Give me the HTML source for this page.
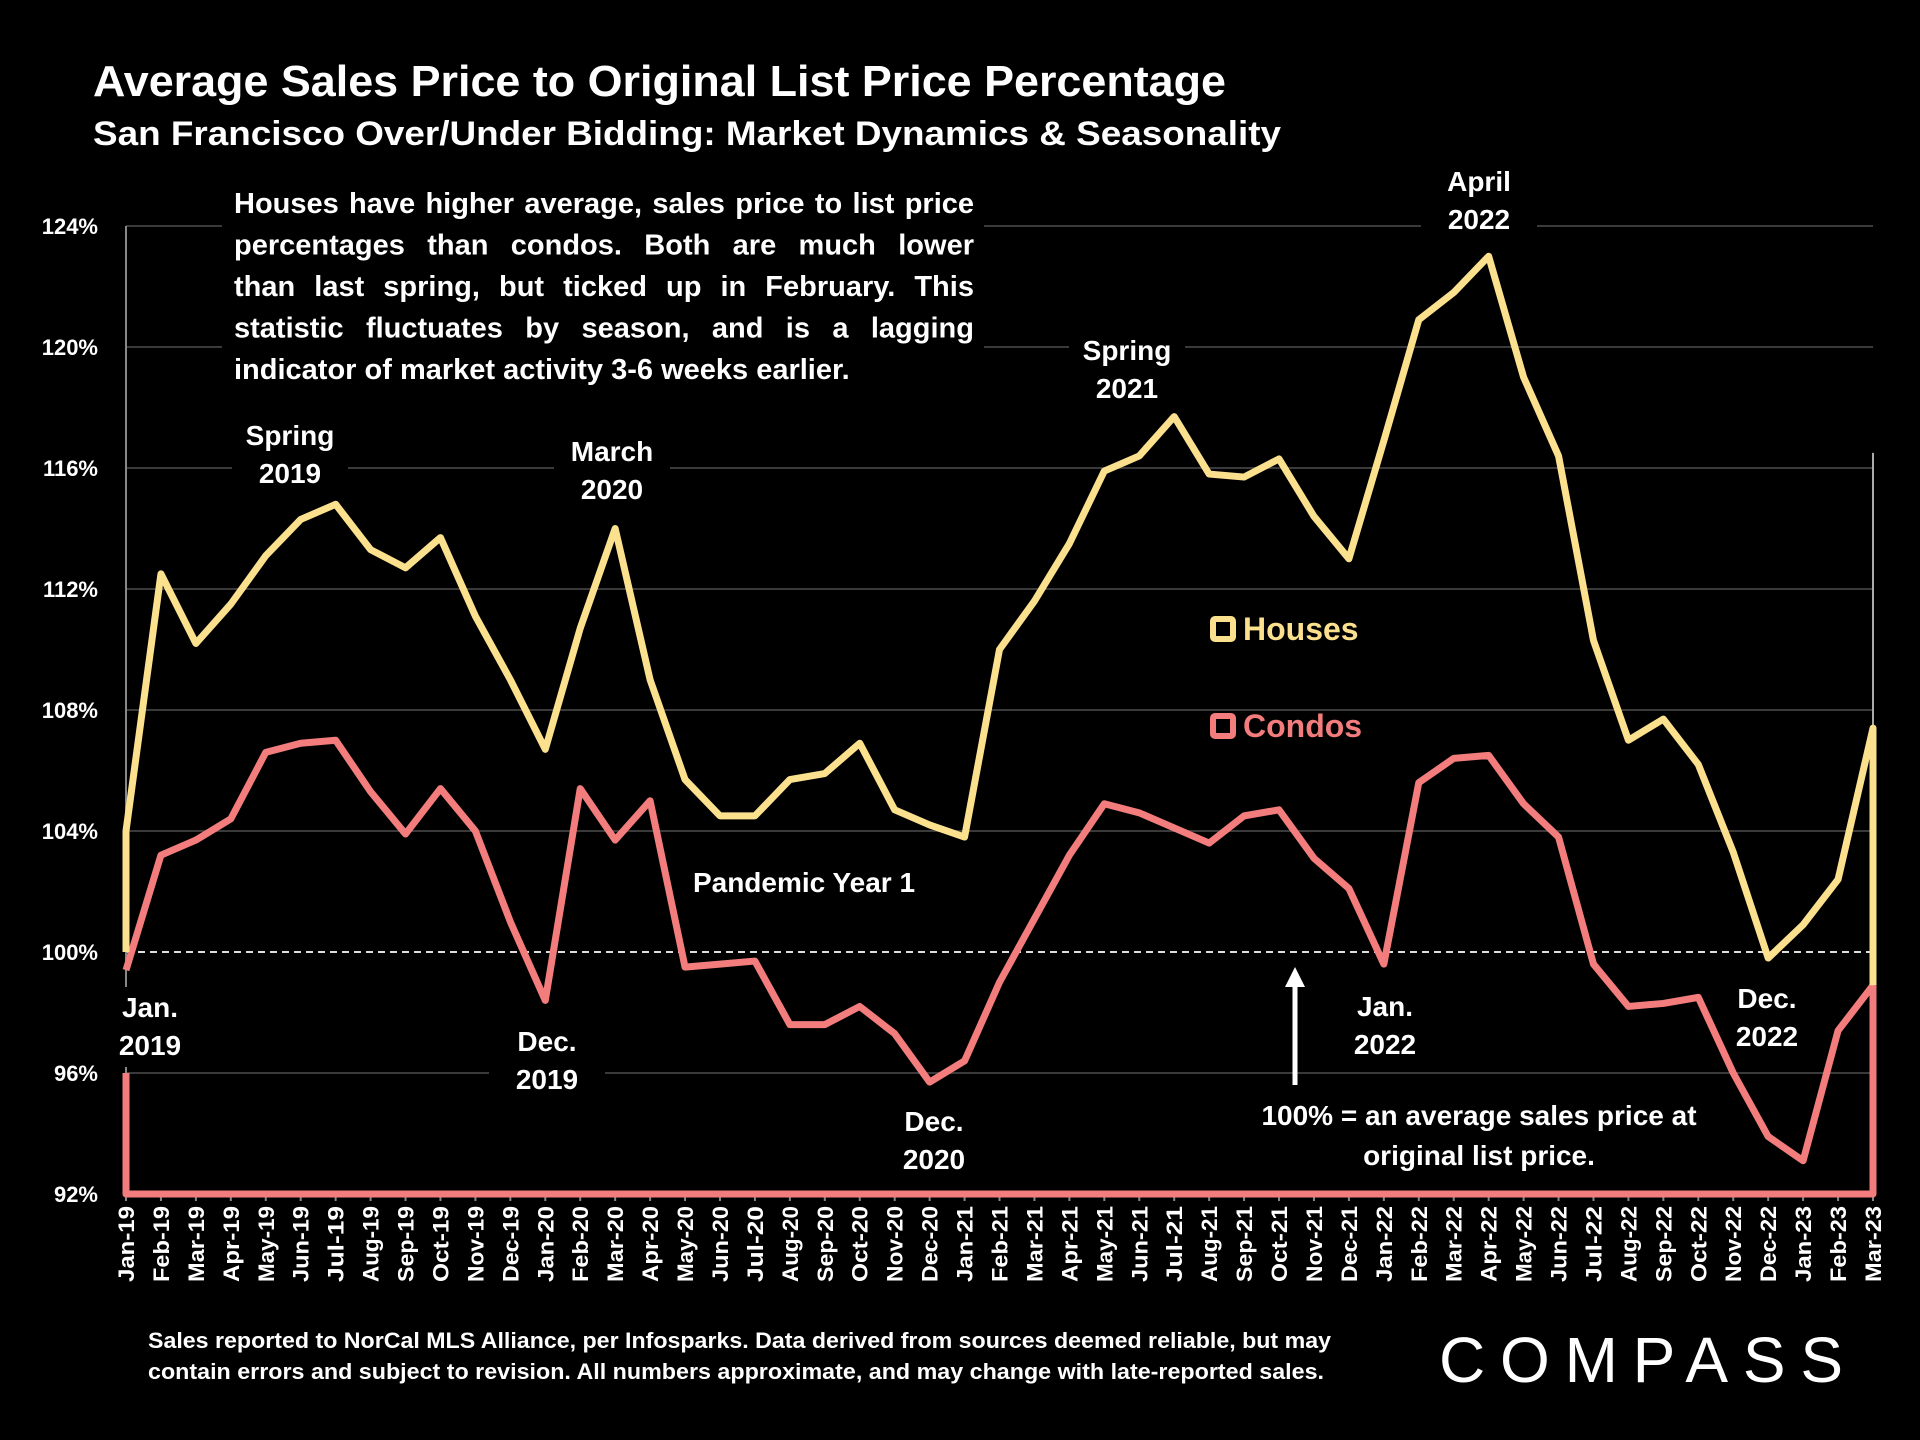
<!DOCTYPE html>
<html><head><meta charset="utf-8"><style>
html,body{margin:0;padding:0;background:#000;}
svg{display:block;font-family:"Liberation Sans",sans-serif;font-weight:bold;}
</style></head><body>
<svg id="chart" width="1920" height="1440" viewBox="0 0 1920 1440" xmlns="http://www.w3.org/2000/svg">
<rect width="1920" height="1440" fill="#000"/>
<g id="grid"></g>
<g id="yticks"></g>
<g id="xticks"></g>
<g id="series"></g>
<g fill="#fff" font-size="44">
<text x="93" y="96" textLength="1133" lengthAdjust="spacingAndGlyphs">Average Sales Price to Original List Price Percentage</text>
<text x="93" y="145" font-size="34" textLength="1188" lengthAdjust="spacingAndGlyphs">San Francisco Over/Under Bidding: Market Dynamics &amp; Seasonality</text>
</g>
<g id="notes" fill="#fff" font-size="28" text-anchor="middle"></g>
<g id="legend">
<g><rect x="1213" y="619" width="20" height="20" fill="#000" stroke="#fbe08e" stroke-width="6" rx="2"/><text x="1243" y="640" font-size="32" fill="#fbe08e">Houses</text></g>
<g><rect x="1213" y="716" width="20" height="20" fill="#000" stroke="#f37c7c" stroke-width="6" rx="2"/><text x="1243" y="737" font-size="32" fill="#f37c7c">Condos</text></g>
</g>
<g fill="#fff" font-size="22">
<text x="148" y="1348" textLength="1183" lengthAdjust="spacingAndGlyphs">Sales reported to NorCal MLS Alliance, per Infosparks. Data derived from sources deemed reliable, but may</text>
<text x="148" y="1379" textLength="1176" lengthAdjust="spacingAndGlyphs">contain errors and subject to revision. All numbers approximate, and may change with late-reported sales.</text>
</g>
<text x="1439" y="1382" fill="#fff" font-size="64" textLength="404" lengthAdjust="spacing" style="font-weight:normal">COMPASS</text>
</svg>
<script>
const months = ["Jan-19","Feb-19","Mar-19","Apr-19","May-19","Jun-19","Jul-19","Aug-19","Sep-19","Oct-19","Nov-19","Dec-19","Jan-20","Feb-20","Mar-20","Apr-20","May-20","Jun-20","Jul-20","Aug-20","Sep-20","Oct-20","Nov-20","Dec-20","Jan-21","Feb-21","Mar-21","Apr-21","May-21","Jun-21","Jul-21","Aug-21","Sep-21","Oct-21","Nov-21","Dec-21","Jan-22","Feb-22","Mar-22","Apr-22","May-22","Jun-22","Jul-22","Aug-22","Sep-22","Oct-22","Nov-22","Dec-22","Jan-23","Feb-23","Mar-23"];
const houses = [104.0,112.5,110.2,111.5,113.1,114.3,114.8,113.3,112.7,113.7,111.1,109.0,106.7,110.7,114.0,109.0,105.7,104.5,104.5,105.7,105.9,106.9,104.7,104.2,103.8,110.0,111.6,113.5,115.9,116.4,117.7,115.8,115.7,116.3,114.4,113.0,116.9,120.9,121.8,123.0,119.0,116.4,110.3,107.0,107.7,106.2,103.3,99.8,100.9,102.4,107.4];
const condos = [99.4,103.2,103.7,104.4,106.6,106.9,107.0,105.3,103.9,105.4,104.0,101.0,98.4,105.4,103.7,105.0,99.5,99.6,99.7,97.6,97.6,98.2,97.3,95.7,96.4,99.0,101.1,103.2,104.9,104.6,104.1,103.6,104.5,104.7,103.1,102.1,99.6,105.6,106.4,106.5,104.9,103.8,99.6,98.2,98.3,98.5,96.0,93.9,93.1,97.4,98.9];
const yTicks = [92,96,100,104,108,112,116,120,124];

const NS="http://www.w3.org/2000/svg";
const X0=126, X1=1873, YMIN=92, YMAX=124, PY0=1194, PY1=226;
const x=i=>X0+(X1-X0)*i/(months.length-1);
const y=v=>PY0-(v-YMIN)/(YMAX-YMIN)*(PY0-PY1);
function mk(tag,attrs,parent){const e=document.createElementNS(NS,tag);for(const k in attrs)e.setAttribute(k,attrs[k]);parent.appendChild(e);return e;}

const grid=document.getElementById('grid');
yTicks.forEach(t=>{
  if(t===92||t===100) return;
  const l=mk('line',{x1:X0,x2:X1,y1:y(t),y2:y(t),stroke:'#3a3a3a','stroke-width':2},grid);
  
  
});
const dash=mk('line',{x1:X0,x2:X1,y1:y(100),y2:y(100),stroke:'#ddd','stroke-width':2,'stroke-dasharray':'7,5'},grid);


const va=mk('line',{x1:X0,x2:X0,y1:y(124),y2:y(92),stroke:'#888','stroke-width':2},grid);


const vb=mk('line',{x1:X1,x2:X1,y1:y(116.5),y2:y(92),stroke:'#aaa','stroke-width':2},grid);



const yt=document.getElementById('yticks');
yTicks.forEach(t=>{
  const e=mk('text',{x:98,y:y(t)+8,'text-anchor':'end','font-size':22,fill:'#fff'},yt);
  e.textContent=t+'%';
  
  
});
const xt=document.getElementById('xticks');
months.forEach((m,i)=>{
  const tk=mk('line',{x1:x(i),x2:x(i),y1:PY0,y2:PY0+7,stroke:'#888','stroke-width':2},xt);
  
  
  const e=mk('text',{transform:`translate(${x(i)+8},${PY0+12}) rotate(-90)`,'text-anchor':'end','font-size':22,fill:'#fff','textLength':76,'lengthAdjust':'spacingAndGlyphs'},xt);
  e.textContent=m;
  
  
});

const labels=[
 ["Spring","2019",290,445],["March","2020",612,461],["Spring","2021",1127,360],["April","2022",1479,191],
 ["Jan.","2019",150,1017],["Dec.","2019",547,1051],["Dec.","2020",934,1131],["Jan.","2022",1385,1016],["Dec.","2022",1767,1008]
];
// label backgrounds behind series (mask gridlines only)
labels.forEach(l=>{
  const bg=mk('rect',{x:l[2]-58,y:l[3]-30,width:116,height:80,fill:'#000'},grid);
  
  
});
const pb=mk('rect',{x:222,y:180,width:762,height:210,fill:'#000'},grid);



const sg=document.getElementById('series');
const N=months.length-1;
const cp=mk('path',{d:`M${x(0)},${y(96)} L${x(0)},${y(92)} L${x(N)},${y(92)} L${x(N)},${y(condos[N])} M${x(0)},${y(condos[0])}`+condos.map((v,i)=>` L${x(i)},${y(v)}`).join(''),fill:'none',stroke:'#f37c7c','stroke-width':7,'stroke-linejoin':'round'},sg);


const hp=mk('path',{d:`M${x(0)},${y(100)}`+houses.map((v,i)=>` L${x(i)},${y(v)}`).join('')+` L${x(N)},${y(condos[N])}`,fill:'none',stroke:'#fbe08e','stroke-width':7,'stroke-linejoin':'round'},sg);



const notes=document.getElementById('notes');
const para=["Houses have higher average, sales price to list price","percentages than condos. Both are much lower","than last spring, but ticked up in February. This","statistic fluctuates by season, and is a lagging","indicator of market activity 3-6 weeks earlier."];
para.forEach((s,i)=>{
  const e=mk('text',{x:234,y:213+i*41.5,'text-anchor':'start','font-size':29,fill:'#fff'},notes);
  e.textContent=s;
  
  
  if(i<4){
    const w=e.getComputedTextLength();
    const gaps=s.split(' ').length-1;
    if(gaps>0 && w<740) e.setAttribute('word-spacing',((740-w)/gaps).toFixed(2));
  }
});
labels.forEach(l=>{
  const e=mk('text',{x:l[2],y:l[3],fill:'#fff','font-size':28},notes);
  e.textContent=l[0];
  
  
  const e2=mk('text',{x:l[2],y:l[3]+38,fill:'#fff','font-size':28},notes);
  e2.textContent=l[1];
  
  
});
[["Pandemic Year 1",804,892],["100% = an average sales price at",1479,1125],["original list price.",1479,1165]].forEach(l=>{
  const e=mk('text',{x:l[1],y:l[2],fill:'#fff','font-size':28},notes);
  e.textContent=l[0];
  
  
});
const ar=mk('line',{x1:1295,x2:1295,y1:1085,y2:985,stroke:'#fff','stroke-width':5},notes);


const ah=mk('polygon',{points:'1285,987 1305,987 1295,967',fill:'#fff'},notes);


</script>
</body></html>
